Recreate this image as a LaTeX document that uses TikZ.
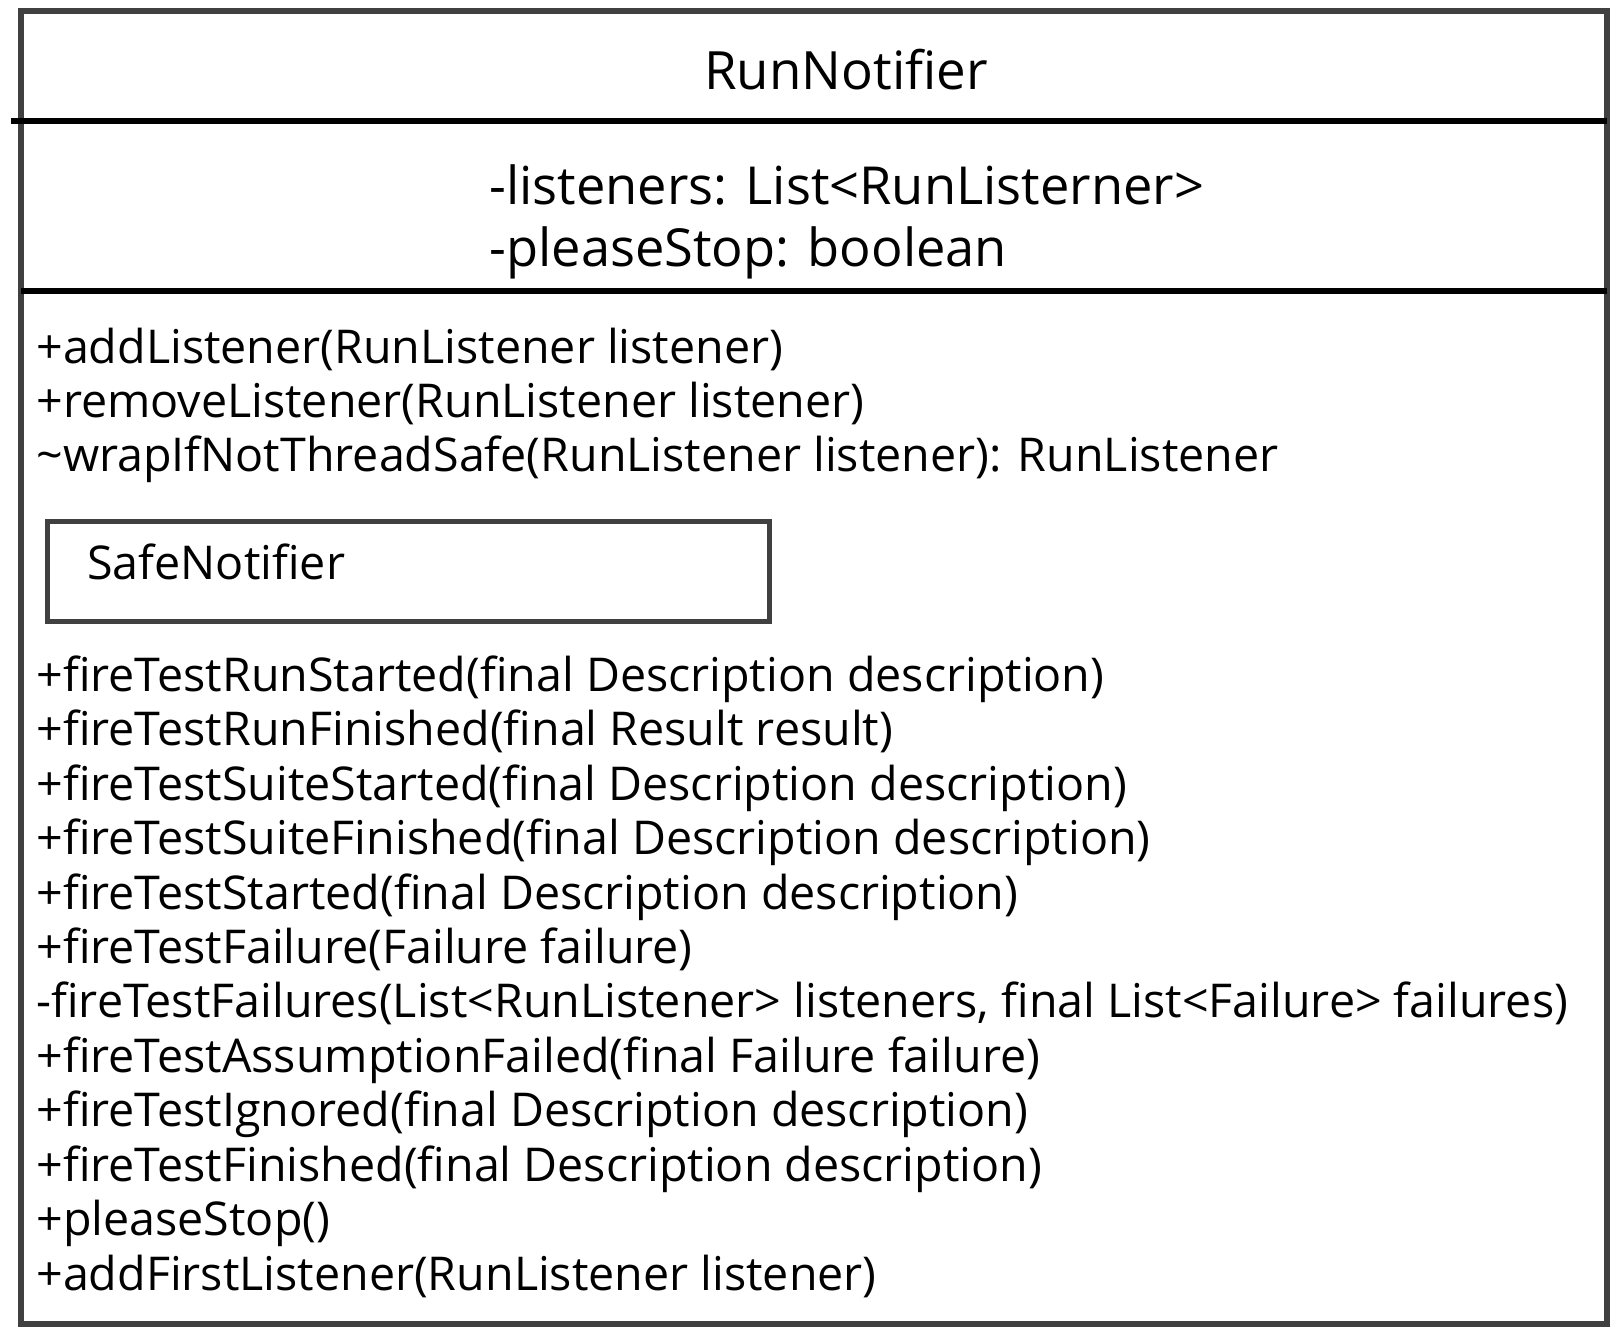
\documentclass[tikz,border=0pt]{standalone}
\usepackage{fontspec}
\setmainfont{Open Sans}
\definecolor{framegray}{HTML}{404040}
\begin{document}
\begin{tikzpicture}[x=0.5pt,y=-0.5pt,
  frameline/.style={draw=framegray,line width=3pt,line join=miter},
  rule/.style={draw=black,line width=3pt},
  titletxt/.style={inner sep=0pt,anchor=base,font=\fontsize{26.4}{32}\selectfont},
  attrtxt/.style={inner sep=0pt,anchor=base west,font=\fontsize{26.2}{32}\selectfont},
  optxt/.style={inner sep=0pt,anchor=base west,font=\fontsize{23.3}{28}\selectfont}]
\useasboundingbox (0,0) rectangle (1617,1340);

% class frame and compartment rules
\draw[frameline] (21,11) rectangle (1607,1324);
\draw[rule] (11,121) -- (1607,121);
\draw[rule] (21,291) -- (1607,291);

% class name
\node[titletxt] (title) at (846,89) {RunNotifier};

% attributes
\node[attrtxt] (a1) at (489,204) {-listeners: List<RunListerner>};
\node[attrtxt] (a2) at (489,266) {-pleaseStop: boolean};

% operations
\node[optxt] (m1) at (36,363) {+addListener(RunListener listener)};
\node[optxt] (m2) at (36,417) {+removeListener(RunListener listener)};
\node[optxt] (m3) at (36,471) {\textasciitilde wrapIfNotThreadSafe(RunListener listener): RunListener};

% nested class
\draw[draw=framegray,line width=2.5pt] (47.5,521) rectangle (769,621);
\node[optxt] (safe) at (87,579) {SafeNotifier};

\node[optxt] (f1) at (36,691) {+fireTestRunStarted(final Description description)};
\node[optxt] (f2) at (36,745) {+fireTestRunFinished(final Result result)};
\node[optxt] (f3) at (36,800) {+fireTestSuiteStarted(final Description description)};
\node[optxt] (f4) at (36,854) {+fireTestSuiteFinished(final Description description)};
\node[optxt] (f5) at (36,909) {+fireTestStarted(final Description description)};
\node[optxt] (f6) at (36,963) {+fireTestFailure(Failure failure)};
\node[optxt] (f7) at (36,1017) {-fireTestFailures(List<RunListener> listeners, final List<Failure> failures)};
\node[optxt] (f8) at (36,1072) {+fireTestAssumptionFailed(final Failure failure)};
\node[optxt] (f9) at (36,1126) {+fireTestIgnored(final Description description)};
\node[optxt] (f10) at (36,1181) {+fireTestFinished(final Description description)};
\node[optxt] (f11) at (36,1235) {+pleaseStop()};
\node[optxt] (f12) at (36,1290) {+addFirstListener(RunListener listener)};
\end{tikzpicture}
\end{document}
